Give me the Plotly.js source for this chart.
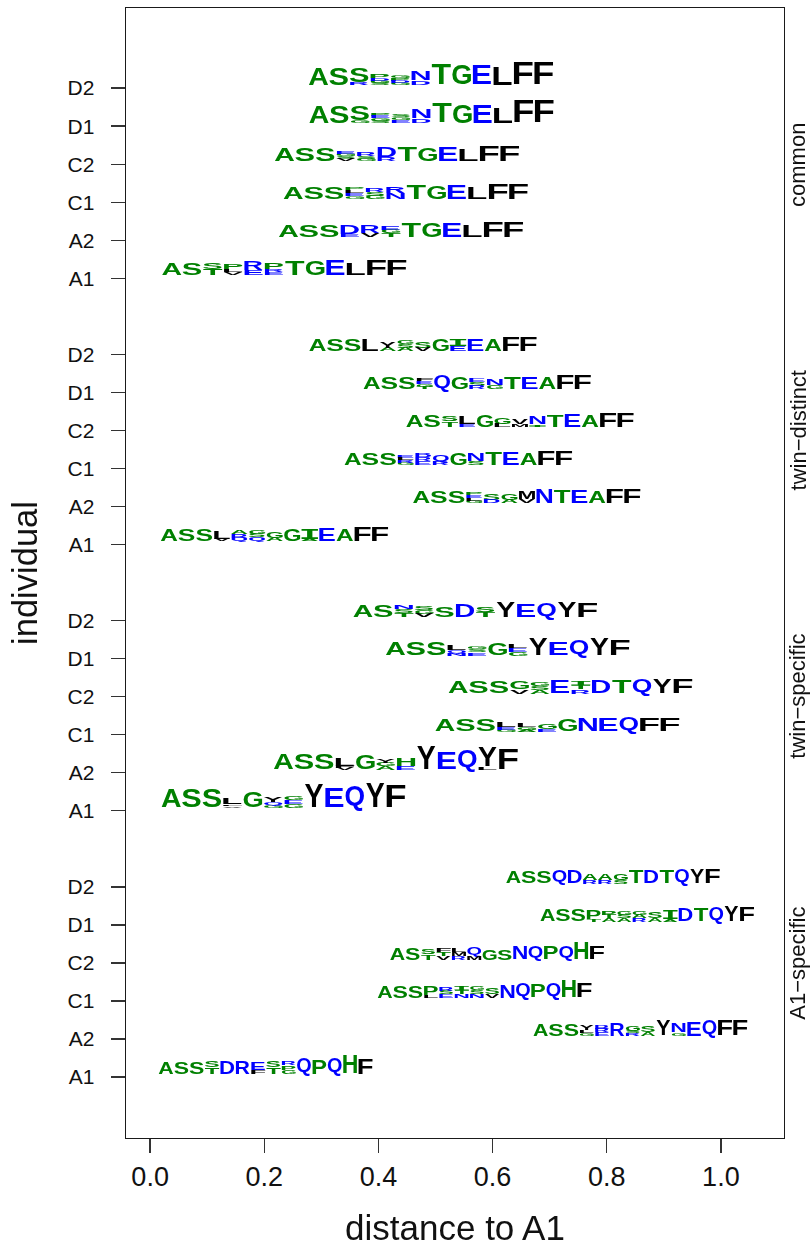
<!DOCTYPE html>
<html>
<head>
<meta charset="utf-8">
<script src="https://cdn.plot.ly/plotly-3.0.1.min.js"></script>
<style>html,body{margin:0;padding:0;background:#fff}
.scatterlayer{filter:blur(0.35px)}</style>
</head>
<body>
<div id="chart" style="width:810px;height:1247px"></div>
<script>
// Row labels, bottom to top inside each panel
const individuals = ['A1','A2','C1','C2','D1','D2'];
const rowPositions = [1,2,3,4,5,6, 8,9,10,11,12,13, 15,16,17,18,19,20, 22,23,24,25,26,27];
const tickLabels = [...individuals,...individuals,...individuals,...individuals];
const xTicks = [0,0.2,0.4,0.6,0.8,1.0];
const panelNames = ['A1\u2212specific','twin\u2212specific','twin\u2212distinct','common'];
const panelCenters = [3.98,11,18,24.98];

// distance to A1 (left edge of each logo), logo span on the distance axis
const specificDist = [0.0145,0.671,0.398,0.420,0.683,0.623];
const twinSpecDist = [0.019,0.216,0.499,0.522,0.412,0.355];
const twinDistDist = [0.018,0.460,0.340,0.448,0.373,0.278];
const commonDist   = [0.020,0.2245,0.233,0.2175,0.278,0.277];
const panelSpans = [0.376,0.429,0.40,0.43];

// Logo columns: letters stacked top to bottom, repeats give a letter more share of its column
const specificLetters = [
 ['A','S','S','ST','D','R','EEF','ST','RPG','Q','P','Q','H','F'],
 ['A','S','S','YYLG','BRE','R','GGSR','SSA','Y','NNNG','E','Q','F','F'],
 ['A','S','S','PPPPL','RSE','ITN','GSN','SSV','N','Q','P','Q','H','F'],
 ['A','S','ST','FTV','LMR','QQM','G','SS','N','Q','P','Q','H','F'],
 ['A','S','S','PPPPT','PTA','GSA','GAR','SSA','IIIA','D','T','Q','Y','F'],
 ['A','S','S','Q','D','AAR','AAR','GGS','T','D','T','Q','Y','F']
];
const specificHeights = [
 [12.7,12.7,12.7,12.7,14.3,14.3,12.7,13,12.7,16,15.3,16,19.3,16],
 [12,12,12,12,10.3,14.3,10.3,11,16.7,12.7,15,16,16,16],
 [12,12,12,12.7,10,11,11,10.3,13.3,14.3,14.3,15,18.3,15.3],
 [11.7,11.7,11,11,11,12.3,11,11,13.3,13.3,14,14,17.3,14],
 [11.7,11.7,11.7,12.3,10.7,10,10,10,11.7,14.3,13.3,15,16.7,15.7],
 [11.7,11.7,11.7,14,13.3,10,10,10.7,13,13.3,13,15,15.7,14.7]
];
const twinSpecLetters = [
 ['A','S','S','LLLLFV','G','YYQG','GEG','Y','E','Q','Y','F'],
 ['A','S','S','LLLLFV','G','YGA','HHE','Y','E','Q','YYYYYYYL','F'],
 ['A','S','S','LLLEG','LLGA','GGE','G','N','E','Q','F','F'],
 ['A','S','S','GGV','GSA','E','ITR','D','T','Q','Y','F'],
 ['A','S','S','LLQN','GSE','G','LEG','Y','E','Q','Y','F'],
 ['A','S','NST','SGV','SSS','D','ST','Y','E','Q','Y','F']
];
const twinSpecHeights = [
 [19,19,19,11,16.7,11,11,25,20.7,23,26,24],
 [16.7,16.7,16.7,11.7,15.7,10,11.7,24.3,18.3,20,23.3,22.3],
 [11.7,11.7,11.7,10,8.3,8.3,11.7,14,13.3,14.3,14.3,14.3],
 [12.7,12.7,12.7,12,12,13.3,13,13.7,14.3,15.3,15.3,15.3],
 [13.7,13.7,13.7,11,9.3,12.7,11,17.7,14.3,16,17.7,17],
 [11.7,11.7,12,11,11,13.3,11.7,16,13.3,15,16,15]
];
const twinDistLetters = [
 ['A','S','S','LLLV','ARQ','GSQ','GGA','G','IIIIA','E','A','F','F'],
 ['A','S','S','PELG','SSD','GGA','MMV','N','T','E','A','F','F'],
 ['A','S','S','ELRG','BRE','QQR','G','NNS','T','E','A','F','F'],
 ['A','S','ST','LLLE','G','GGL','VVM','NNNI','T','E','A','F','F'],
 ['A','S','S','FEGT','Q','G','ESR','NNG','T','E','A','F','F'],
 ['A','S','S','L','YYA','GSA','SSV','G','IIIEE','E','A','F','F']
];
const twinDistHeights = [
 [12.3,12.3,12.3,11,11,11.7,11,12.3,12.3,14,11.7,15.7,15.7],
 [12.3,12.3,12.3,11,10.7,10.7,13,15.7,13.3,13.3,12.3,15,15],
 [12,12,12,10,12,12,12,12,13,13,12,14.7,14.7],
 [12.3,12.3,12,11,11.7,11,9,11.7,12.3,13,11.7,15,15],
 [12,12,12,11,15,11.7,11,11,12.7,12.7,11.7,15,15],
 [12,12,12,12,10.3,10.3,10.3,12,12,12.7,11.7,15,15]
];
const commonLetters = [
 ['A','S','ST','PPLV','RRE','PPRE','T','G','E','L','F','F'],
 ['A','S','S','DDDE','RRV','EGT','T','G','E','L','F','F'],
 ['A','S','S','PLEG','RSG','RRNN','T','G','E','L','F','F'],
 ['A','S','S','EGSV','RRSG','DDDR','T','G','E','L','F','F'],
 ['A','S','SSSSSSSG','PEGS','SGE','NND','T','G','E','L','F','F'],
 ['A','S','SSSSSSSR','PPDGS','GPDG','NND','T','G','E','L','F','F']
];
const commonHeights = [
 [12.7,12.7,12.7,12,14.3,12.3,15.7,15,16.7,12.3,16.7,16.7],
 [12.3,12.3,12.3,13,13,11,15.7,15,15.7,11.7,16.3,16.3],
 [11.7,11.7,11.7,12,10,12.3,14.7,14,15.7,11.7,16.3,16.3],
 [13.7,13.7,13.7,9.5,9.3,13.7,15,14.3,15.3,12,17,17],
 [17.7,17.7,17.5,9.3,9,13.3,21,19.3,19.3,17,22.7,22.7],
 [18.3,18.3,18,11,9,14,21.7,20.7,20,19,23.3,24]
];

const letterColors = {green:'AGHIPST', blue:'BDENQR', black:'FLMVY'};
const colorValues = {green:'#008000', blue:'#0000ff', black:'#000000'};
const FONT = '"Liberation Sans", Arial, Helvetica, sans-serif';
const SLAB_FONT = '"Liberation Mono", "DejaVu Sans Mono", monospace'; // gives the logo I its bars
const LOGO_FONT_SIZE = 40;
const HEIGHT_UNIT = 1/38.05;   // logo letter height units → rows
const BASE_LIFT = 0.08;        // logo baseline sits slightly above its tick
const logoFont = ch => ch==='I' ? SLAB_FONT : FONT;

const panels = [
 [specificDist,specificLetters,specificHeights],
 [twinSpecDist,twinSpecLetters,twinSpecHeights],
 [twinDistDist,twinDistLetters,twinDistHeights],
 [commonDist,commonLetters,commonHeights]
];

const buckets = {};
Object.keys(colorValues).forEach(c => buckets[c] = {x:[],y:[],text:[],cell:[]});
const colorOf = ch => Object.keys(letterColors).find(c => letterColors[c].includes(ch));

panels.forEach(([dist,letters,heights],p) => {
  letters.forEach((cols,r) => {
    const row = rowPositions[p*6+r];
    const colW = panelSpans[p]/cols.length;
    cols.forEach((stack,i) => {
      const total = heights[r][i]*HEIGHT_UNIT;
      const runs = [];
      for (const ch of stack) {
        if (runs.length && runs[runs.length-1][0]===ch) runs[runs.length-1][1]++;
        else runs.push([ch,1]);
      }
      let top = row + BASE_LIFT + total;
      runs.forEach(([ch,n]) => {
        const h = total*n/stack.length;
        const b = buckets[colorOf(ch)];
        b.x.push(dist[r] + (i+0.5)*colW);
        b.y.push(top - h/2);
        b.text.push(ch);
        b.cell.push([colW*0.94,h*0.94]);
        top -= h;
      });
    });
  });
});

const traces = Object.keys(buckets).map(c => ({
  type:'scatter', mode:'text', x:buckets[c].x, y:buckets[c].y, text:buckets[c].text,
  customdata:buckets[c].cell, textposition:'middle center', hoverinfo:'skip',
  textfont:{family:buckets[c].text.map(logoFont),size:LOGO_FONT_SIZE,color:colorValues[c],weight:'bold'},
  showlegend:false, cliponaxis:false
}));

const axisBase = {
  showgrid:false, zeroline:false, showline:true, mirror:true,
  linecolor:'#1a1a1a', linewidth:1.4, ticks:'outside', ticklen:14,
  tickwidth:1.4, tickcolor:'#333333'
};
const layout = {
  width:810, height:1247, paper_bgcolor:'#fff', plot_bgcolor:'#fff',
  margin:{l:125.5,r:25.5,t:8,b:108.5,pad:0},
  font:{family:FONT,color:'#111'},
  showlegend:false,
  xaxis:Object.assign({},axisBase,{
    range:[-0.0423,1.1106], tickmode:'array', tickvals:xTicks,
    ticktext:xTicks.map(v=>v.toFixed(1)), tickfont:{size:27,family:FONT,color:'#111'},
    ticklabelstandoff:0,
    title:{text:'distance to A1',font:{size:35,family:FONT,color:'#111'},standoff:38}
  }),
  yaxis:Object.assign({},axisBase,{
    range:[-0.603,29.107], tickmode:'array', tickvals:rowPositions, ticktext:tickLabels,
    tickfont:{size:21,family:FONT,color:'#111'}, ticklabelstandoff:12,
    title:{text:'individual',font:{size:34.5,family:FONT,color:'#111'},standoff:19}
  }),
  annotations:panelNames.map((t,i)=>({
    text:t, xref:'paper', yref:'y', x:1.0213, y:panelCenters[i], textangle:-90,
    xanchor:'center', yanchor:'middle', showarrow:false,
    font:{size:22,family:FONT,color:'#111'}
  }))
};

const gd = document.getElementById('chart');

// Stretch each logo letter so its ink fills the cell the axes give it.
function fitLetters() {
  const xa = gd._fullLayout.xaxis, ya = gd._fullLayout.yaxis;
  const ctx = document.createElement('canvas').getContext('2d');
  const metric = {};
  const measure = ch => {
    if (metric[ch]) return metric[ch];
    ctx.font = 'bold '+LOGO_FONT_SIZE+'px '+logoFont(ch);
    const m = ctx.measureText(ch);
    // the thin tail of Q may hang under the baseline without shrinking its bowl
    const descent = ch==='Q' ? m.actualBoundingBoxDescent*0.35 : m.actualBoundingBoxDescent;
    return metric[ch] = {l:m.actualBoundingBoxLeft,r:m.actualBoundingBoxRight,a:m.actualBoundingBoxAscent,d:descent};
  };
  gd.querySelectorAll('.scatterlayer .trace').forEach((tr,ti) => {
    const cells = traces[ti].customdata;
    tr.querySelectorAll('.textpoint text').forEach((node,i) => {
      const ch = traces[ti].text[i];
      const m = measure(ch);
      const inkW = m.l + m.r, inkH = m.a + m.d;
      const cx = (m.r - m.l)/2, cy = (m.d - m.a)/2;
      const px = xa.c2p(traces[ti].x[i]);
      const py = ya.c2p(traces[ti].y[i]);
      const sx = cells[i][0]*xa._m/inkW;
      const sy = cells[i][1]*Math.abs(ya._m)/inkH;
      node.setAttribute('text-anchor','start');
      node.setAttribute('x',0);
      node.setAttribute('y',0);
      node.querySelectorAll('tspan').forEach(t=>{t.setAttribute('x',0);t.setAttribute('y',0);t.removeAttribute('dy');});
      node.parentNode.removeAttribute('transform');
      node.setAttribute('transform',
        'translate('+px+','+py+') scale('+sx+','+sy+') translate('+(-cx)+','+(-cy)+')');
    });
  });
}
Plotly.newPlot(gd,traces,layout,{displayModeBar:false,staticPlot:true}).then(fitLetters);
</script>
</body>
</html>
